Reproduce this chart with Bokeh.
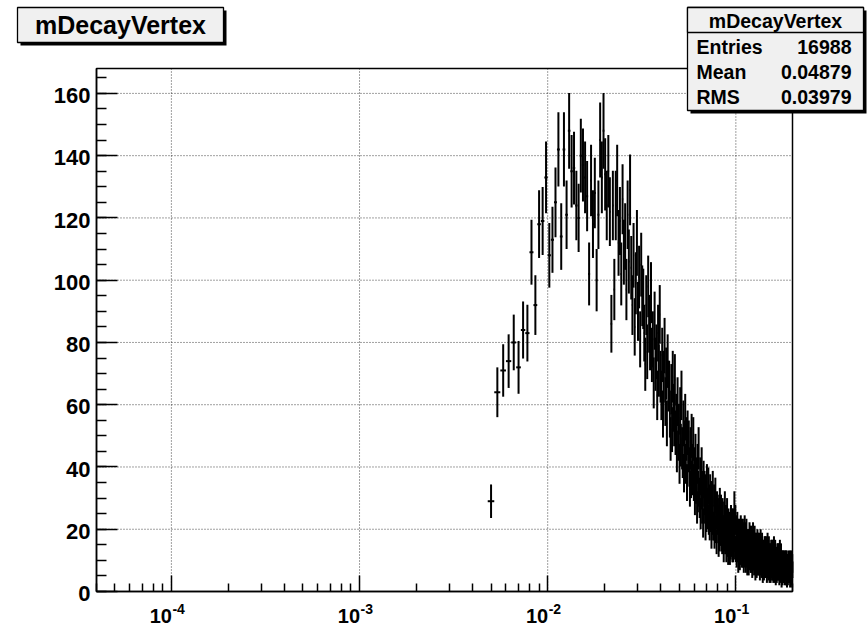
import math
import numpy as np
from bokeh.plotting import figure
from bokeh.models import FixedTicker, BoxAnnotation, Label, LogAxis, LinearAxis
from bokeh.embed import file_html
from bokeh.resources import INLINE

# ---------------- data ----------------
hist_title = "mDecayVertex"
hist_xmin, hist_xmax, hist_nbins = 0.0, 0.2, 500
first_filled_bin = 12

# bins 12 .. 59
counts_rise = [29, 64, 71, 74, 80, 72, 84, 83, 109, 92,
               118, 119, 133, 108, 113, 125, 142, 114, 142, 121,
               148, 135, 136, 124, 120, 140, 137, 133, 127, 102,
               132, 118, 128, 100, 121, 145, 133, 148, 134, 124,
               135, 122, 86, 124, 97, 124, 132, 112]
# bins 60 .. 199
counts_fall = [119, 102, 126, 109, 114, 97, 121, 106, 129, 104,
               92, 108, 85, 99, 112, 90, 101, 81, 105, 95,
               94, 83, 73, 92, 77, 98, 86, 80, 96, 76,
               81, 67, 87, 73, 77, 63, 83, 71, 89, 69,
               63, 76, 57, 69, 79, 61, 70, 54, 74, 66,
               66, 57, 49, 65, 52, 69, 59, 54, 68, 51,
               56, 45, 61, 49, 53, 41, 58, 47, 63, 46,
               43, 54, 38, 48, 56, 41, 49, 35, 51, 45,
               48, 40, 33, 46, 36, 50, 41, 37, 49, 35,
               40, 30, 44, 34, 37, 27, 41, 33, 46, 31,
               29, 37, 25, 32, 40, 27, 33, 22, 36, 30,
               33, 27, 21, 32, 24, 35, 28, 25, 34, 23,
               29, 21, 32, 24, 26, 18, 30, 23, 33, 21,
               21, 29, 18, 25, 31, 20, 25, 16, 27, 23]
# bins 200 .. 499
counts_tail = [26, 20, 15, 25, 17, 28, 22, 19, 26, 17,
               23, 16, 25, 18, 20, 13, 24, 17, 27, 16,
               16, 23, 13, 19, 25, 15, 20, 12, 22, 18,
               21, 16, 12, 20, 14, 23, 18, 15, 22, 13,
               19, 13, 22, 15, 17, 27, 20, 14, 23, 13,
               14, 20, 11, 16, 21, 13, 17, 9, 19, 15,
               19, 14, 10, 18, 12, 20, 15, 13, 19, 11,
               17, 11, 19, 13, 15, 9, 18, 12, 20, 11,
               12, 18, 9, 14, 19, 11, 15, 8, 16, 13,
               16, 12, 8, 16, 10, 18, 13, 11, 17, 9,
               15, 9, 17, 11, 13, 7, 16, 10, 18, 10,
               10, 16, 8, 13, 17, 9, 13, 6, 15, 11,
               15, 11, 7, 14, 8, 16, 12, 9, 15, 8,
               13, 8, 15, 10, 12, 6, 14, 9, 16, 8,
               9, 14, 7, 11, 15, 8, 12, 5, 13, 10,
               13, 9, 6, 12, 7, 14, 10, 8, 14, 7,
               12, 7, 14, 9, 10, 5, 13, 8, 15, 7,
               8, 13, 6, 10, 14, 7, 11, 5, 12, 9,
               12, 8, 5, 11, 7, 13, 9, 7, 13, 6,
               11, 6, 13, 8, 9, 5, 12, 7, 14, 7,
               7, 12, 5, 9, 13, 7, 10, 4, 11, 8,
               11, 8, 5, 11, 6, 12, 8, 7, 12, 6,
               10, 6, 12, 7, 9, 4, 11, 7, 13, 6,
               7, 11, 5, 9, 12, 6, 9, 3, 10, 8,
               10, 7, 4, 9, 6, 10, 8, 6, 10, 5,
               9, 5, 10, 7, 8, 4, 9, 6, 10, 6,
               6, 10, 4, 8, 10, 6, 9, 3, 9, 7,
               9, 7, 4, 9, 5, 10, 8, 6, 9, 5,
               9, 5, 10, 6, 8, 3, 9, 6, 10, 5,
               6, 9, 4, 8, 10, 5, 8, 3, 9, 7]

stat_names = ["Entries", "Mean", "RMS"]
stat_values = ["16988", "0.04879", "0.03979"]
y_tick_values = [0, 20, 40, 60, 80, 100, 120, 140, 160]
x_decade_exponents = [-4, -3, -2, -1]

# ---------------- layout ----------------
W, H = 867, 629
FL, FR, FT, FB = 96, 792, 68, 591          # histogram frame in page pixels
X_LO, X_HI = 4e-5, 0.2
Y_LO, Y_HI = 0.0, 168.0
FONT = "Liberation Sans"
LA, LB = math.log10(X_LO), math.log10(X_HI)


def sx(px):
    return 10 ** (LA + (px - FL) / (FR - FL) * (LB - LA))


def sy(py):
    return Y_LO + (FB - py) / (FB - FT) * (Y_HI - Y_LO)


def xpx(v):
    return FL + (math.log10(v) - LA) / (LB - LA) * (FR - FL)


# ---------------- histogram arrays ----------------
counts = np.zeros(hist_nbins)
filled = np.array(counts_rise + counts_fall + counts_tail, dtype=float)
counts[first_filled_bin:first_filled_bin + len(filled)] = filled
bw = (hist_xmax - hist_xmin) / hist_nbins
lo = hist_xmin + bw * np.arange(hist_nbins)
hi = lo + bw
xc = lo + 0.5 * bw
m = counts > 0
err = np.sqrt(counts)

p = figure(width=W, height=H, x_axis_type="log",
           x_axis_location=None, y_axis_location=None,
           x_range=(sx(0), sx(W)), y_range=(sy(H), sy(0)),
           output_backend="svg", toolbar_location=None, title=None,
           min_border=0)
p.min_border_left = p.min_border_right = p.min_border_top = p.min_border_bottom = 0
p.background_fill_color = "white"
p.border_fill_color = "white"
p.outline_line_color = None
p.grid.visible = False

# grid (dotted)
xmaj = [10.0 ** e for e in x_decade_exponents]
p.segment(x0=xmaj, y0=[Y_LO] * len(xmaj), x1=xmaj, y1=[Y_HI] * len(xmaj),
          line_color="black", line_dash="1 2", line_width=1, line_alpha=0.75)
yg = [t for t in y_tick_values if t > Y_LO]
p.segment(x0=[X_LO] * len(yg), y0=yg, x1=[X_HI] * len(yg), y1=yg,
          line_color="black", line_dash="1 2", line_width=1, line_alpha=0.75)

# axes at the histogram frame
xmin_t = [mm * 10.0 ** e for e in range(-5, 0) for mm in range(2, 10)]
xmin_t = [t for t in xmin_t if X_LO <= t <= X_HI]
xa = LogAxis(fixed_location=Y_LO, bounds=(X_LO, X_HI),
             ticker=FixedTicker(ticks=xmaj, minor_ticks=xmin_t))
ya = LinearAxis(fixed_location=X_LO, bounds=(Y_LO, Y_HI),
                ticker=FixedTicker(ticks=y_tick_values, minor_ticks=list(range(0, 169, 5))))
for ax, tin in ((xa, 16), (ya, 21)):
    ax.major_tick_in = tin
    ax.major_tick_out = 0
    ax.minor_tick_in = tin // 2
    ax.minor_tick_out = 0
    ax.axis_line_width = 1.5
    ax.axis_line_color = "black"
    ax.major_tick_line_width = 1.5
    ax.minor_tick_line_width = 1.5
    ax.major_label_text_font_size = "1px"
    ax.major_label_text_alpha = 0.0
    ax.major_label_standoff = 0
p.add_layout(xa, "below")
p.add_layout(ya, "left")

# frame top / right lines
p.add_layout(BoxAnnotation(left=X_LO, right=X_HI, bottom=Y_LO, top=Y_HI,
                           fill_color=None, fill_alpha=0, line_color="black",
                           line_alpha=1.0, line_width=1.5, level="underlay"))

# histogram error bars
p.segment(x0=xc[m], y0=(counts - err)[m], x1=xc[m], y1=(counts + err)[m],
          line_color="black", line_width=2.0)
p.segment(x0=lo[m], y0=counts[m], x1=hi[m], y1=counts[m],
          line_color="black", line_width=2.0)


def box(l, r, t, b, fill, line):
    p.add_layout(BoxAnnotation(left=sx(l), right=sx(r), top=sy(t), bottom=sy(b),
                               fill_color=fill, fill_alpha=1.0,
                               line_color=line if line else "black",
                               line_alpha=1.0 if line else 0.0,
                               line_width=1.3, level="overlay"))


def label(x, y, text, size, align):
    p.add_layout(Label(x=x, y=y, text=text, text_font=FONT,
                       text_font_style="bold", text_font_size=size,
                       text_align=align, text_baseline="middle",
                       text_color="black", level="overlay"))


# x tick labels 10^n  (y given as the centre of the capitals, page pixels)
for e, t in zip(x_decade_exponents, xmaj):
    tx = xpx(t)
    label(sx(tx + 0.5), sy(615.5), "10", "20px", "right")
    label(sx(tx + 1.0), sy(608), str(e), "14px", "left")

# y tick labels
for t in y_tick_values:
    label(sx(90), t - 0.7, str(t), "22px", "right")

# title box
box(20, 226, 10, 45, "black", None)
box(17, 223, 7, 42, "#f0f0f0", "black")
label(sx(120), sy(24.5), hist_title, "25px", "center")

# stats box
box(690, 866, 10, 113, "black", None)
box(687, 863, 7, 110, "#f0f0f0", "black")
box(687, 863, 7, 32, "#f0f0f0", "black")
label(sx(775), sy(20.3), hist_title, "19.5px", "center")
for i, (n, v) in enumerate(zip(stat_names, stat_values)):
    yc = 46.3 + 25 * i
    label(sx(696), sy(yc), n, "19.5px", "left")
    label(sx(851), sy(yc), v, "19.5px", "right")

open("out.html", "w").write(file_html(p, INLINE))
